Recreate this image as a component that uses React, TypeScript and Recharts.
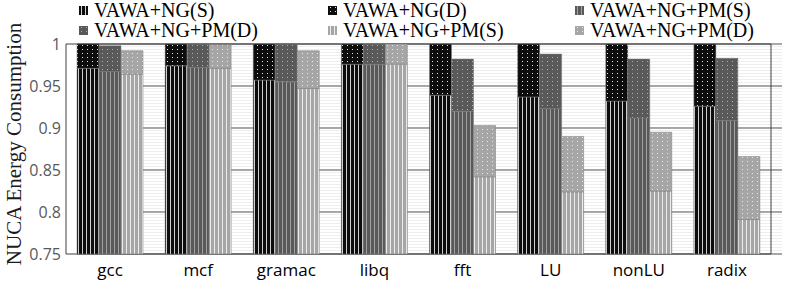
import { BarChart, Bar, XAxis, YAxis, CartesianGrid, ReferenceArea } from 'recharts';

const categories = ['gcc', 'mcf', 'gramac', 'libq', 'fft', 'LU', 'nonLU', 'radix'];

// VAWA+NG
const ngS = [0.971, 0.974, 0.957, 0.976, 0.939, 0.937, 0.932, 0.926];
const ngD = [1.0, 1.0, 1.0, 1.0, 1.0, 1.0, 1.0, 1.0];
// VAWA+NG+PM (dark gray)
const pmS = [0.967, 0.972, 0.955, 0.976, 0.92, 0.923, 0.912, 0.909];
const pmD = [0.998, 1.0, 1.0, 1.0, 0.982, 0.988, 0.982, 0.983];
// VAWA+NG+PM (light gray)
const pm2S = [0.964, 0.971, 0.947, 0.976, 0.842, 0.824, 0.825, 0.791];
const pm2D = [0.992, 0.999, 0.992, 1.0, 0.903, 0.89, 0.895, 0.866];

const yTicks = [0.75, 0.8, 0.85, 0.9, 0.95, 1];

const series = [
  { key: 'ngS', stack: 'a', name: 'VAWA+NG(S)', fill: 'url(#blackS)' },
  { key: 'ngD', stack: 'a', name: 'VAWA+NG(D)', fill: 'url(#blackD)' },
  { key: 'pmS', stack: 'b', name: 'VAWA+NG+PM(S)', fill: 'url(#darkS)' },
  { key: 'pmD', stack: 'b', name: 'VAWA+NG+PM(D)', fill: 'url(#darkD)' },
  { key: 'pm2S', stack: 'c', name: 'VAWA+NG+PM(S)', fill: 'url(#lightS)' },
  { key: 'pm2D', stack: 'c', name: 'VAWA+NG+PM(D)', fill: 'url(#lightD)' },
];

// bottom segment = S value, top segment = D - S
const data = categories.map((name, i) => ({
  name,
  ngS: ngS[i],
  ngD: +(ngD[i] - ngS[i]).toFixed(4),
  pmS: pmS[i],
  pmD: +(pmD[i] - pmS[i]).toFixed(4),
  pm2S: pm2S[i],
  pm2D: +(pm2D[i] - pm2S[i]).toFixed(4),
}));

const serif = '"Liberation Serif", "Times New Roman", serif';
const sans = '"Open Sans", "Noto Sans", sans-serif';

function stripe(id: string, bg: string, fg: string) {
  return (
    <pattern id={id} width={4} height={4} patternUnits="userSpaceOnUse">
      <rect width={4} height={4} fill={bg} />
      <rect x={2} width={1} height={4} fill={fg} />
    </pattern>
  );
}

function dots(id: string, bg: string, fg: string) {
  return (
    <pattern id={id} width={5} height={4} patternUnits="userSpaceOnUse">
      <rect width={5} height={4} fill={bg} />
      <rect x={2} y={1} width={1} height={1} fill={fg} />
    </pattern>
  );
}

function Patterns() {
  return (
    <svg width={0} height={0} style={{ position: 'absolute' }}>
      <defs>
        {stripe('blackS', '#0d0d0d', '#cfcfcf')}
        {dots('blackD', '#0d0d0d', '#e6e6e6')}
        {stripe('darkS', '#595959', '#a0a0a0')}
        {dots('darkD', '#595959', '#b0b0b0')}
        {stripe('lightS', '#a6a6a6', '#ececec')}
        {dots('lightD', '#a6a6a6', '#e8e8e8')}
        <pattern id="bgLines" width={4} height={3} patternUnits="userSpaceOnUse">
          <rect width={4} height={3} fill="#ffffff" />
          <rect y={1} width={4} height={1} fill="#eeeeee" />
        </pattern>
      </defs>
    </svg>
  );
}

const legendCols = [79, 328, 575];

function Legend() {
  return (
    <>
      {series.map((s, i) => {
        const col = i % 3;
        const row = Math.floor(i / 3);
        return (
          <div
            key={s.key}
            style={{
              position: 'absolute',
              left: legendCols[col],
              top: row * 20,
              height: 20,
              display: 'flex',
              alignItems: 'center',
              fontFamily: serif,
              fontSize: 20,
              color: '#000',
              whiteSpace: 'nowrap',
              lineHeight: '20px',
            }}
          >
            <svg width={9} height={9} style={{ marginRight: 6 }}>
              <rect width={9} height={9} fill={s.fill} />
            </svg>
            {s.name}
          </div>
        );
      })}
    </>
  );
}

function YLabel() {
  return (
    <text
      x={14}
      y={144}
      transform="rotate(-90 14 144)"
      textAnchor="middle"
      dominantBaseline="central"
      fontFamily={serif}
      fontSize={21}
      fill="#1a1a1a"
    >
      NUCA Energy Consumption
    </text>
  );
}

export default function App() {
  return (
    <div style={{ position: 'absolute', left: 0, top: 0, width: 789, height: 283, background: '#fff' }}>
      <Patterns />
      <BarChart
        width={789}
        height={283}
        data={data}
        margin={{ top: 44, right: 7, bottom: 0, left: 0 }}
        barCategoryGap={11}
        barGap={0}
      >
        <CartesianGrid horizontal vertical={false} stroke="#8c8c8c" strokeWidth={1.5} fill="url(#bgLines)" />
        <XAxis
          dataKey="name"
          height={29}
          padding={{ left: -11, right: 11 }}
          axisLine={false}
          tickLine={false}
          tickSize={0}
          tickMargin={10}
          interval={0}
          tick={{ fill: '#000', fontSize: 17, fontFamily: sans }}
        />
        <YAxis
          width={77}
          domain={[0.75, 1]}
          ticks={yTicks}
          allowDataOverflow
          axisLine={false}
          tickLine={false}
          tickSize={0}
          tickMargin={16}
          tick={{ fill: '#595959', fontSize: 16, fontFamily: sans }}
          label={<YLabel />}
        />
        {series.map(s => (
          <Bar
            key={s.key}
            dataKey={s.key}
            stackId={s.stack}
            name={s.name}
            fill={s.fill}
            stroke="#7a7a7a"
            strokeWidth={0.5}
            isAnimationActive={false}
          />
        ))}
        <ReferenceArea y1={0.75} y2={1} fill="none" stroke="#404040" strokeWidth={1} ifOverflow="visible" />
      </BarChart>
      <Legend />
    </div>
  );
}
